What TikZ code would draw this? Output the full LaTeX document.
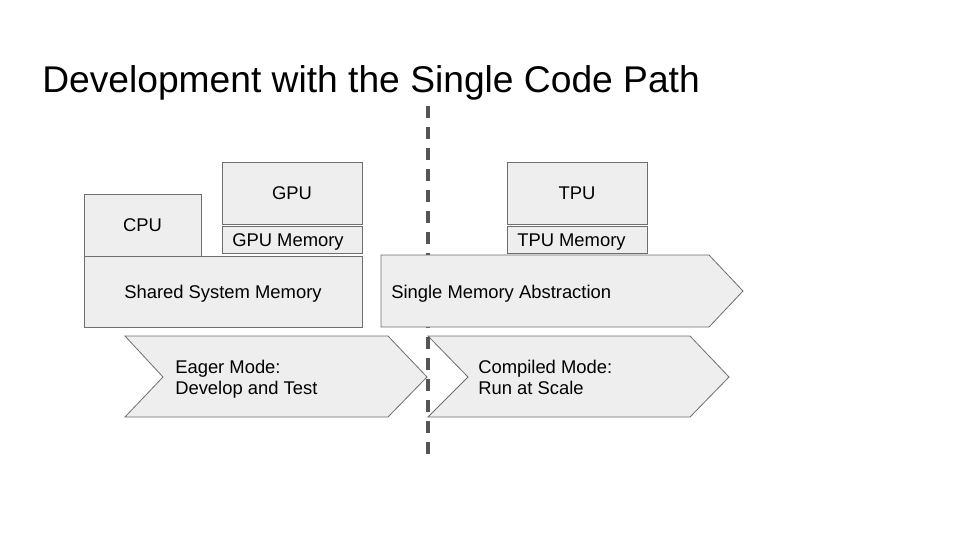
\documentclass[tikz,border=0pt]{standalone}
\usepackage{fontspec}
\setmainfont{Liberation Sans}
\usetikzlibrary{shapes.symbols,positioning}
\definecolor{BoxFill}{HTML}{EEEEEE}
\definecolor{BoxLine}{HTML}{6E6E6E}
\definecolor{DashGray}{HTML}{555555}

\begin{document}
\begin{tikzpicture}[x=0.75pt,y=-0.75pt,
  unit/.style={draw=BoxLine,fill=BoxFill,line width=0.6pt,inner sep=0pt,
               font=\fontsize{13.8}{16}\selectfont},
  memtag/.style={unit,minimum width=105pt,minimum height=20.25pt},
  arrowbox/.style={draw=BoxLine,fill=BoxFill,line width=0.6pt,line join=miter},
  label/.style={font=\fontsize{13.8}{15.75}\selectfont,align=left,anchor=base west,inner sep=0pt},
]
\useasboundingbox (0,0) rectangle (960,540);

% title
\node[anchor=base west,inner sep=0pt,font=\fontsize{27.9}{32}\selectfont] (title) at (42,92)
  {Development with the Single Code Path};

% left side: eager
\node[unit,minimum width=87.75pt,minimum height=46.5pt] (cpu) at (142.5,225) {CPU};
\node[unit,minimum width=105pt,minimum height=46.5pt] (gpu) at (292,193) {GPU};
\node[memtag] (gpumem) at (292,239.5) {};
\node[label] at (232,246.5) {GPU Memory};
\node[unit,minimum width=208.5pt,minimum height=53.25pt] (shared) at (223,291.5) {};
\node[label] at (124,298.5) {Shared System Memory};

% right side: compiled
\node[unit,minimum width=105pt,minimum height=46.5pt] (tpu) at (577,193) {TPU};
\node[memtag] (tpumem) at (577,239.5) {};
\node[label] at (517,246.5) {TPU Memory};

% mode chevrons (label anchor = baseline of last line)
\draw[arrowbox] (125,336) -- (388,336) -- (427,377) -- (388,417) -- (125,417) -- (163,377) -- cycle;
\node[label] (eager) at (175,394.5) {Eager Mode:\\Develop and Test};
\draw[arrowbox] (428,336) -- (690,336) -- (729,377) -- (690,417) -- (428,417) -- (468,377) -- cycle;
\node[label] (compiled) at (478,394.5) {Compiled Mode:\\Run at Scale};

% divider between the two modes
\coordinate (divtop) at (428,106);
\coordinate (divbot) at (428,455);
\draw[DashGray,line width=2.4pt,dash pattern=on 9pt off 6.75pt] (divtop) -- (divbot);

\draw[arrowbox] (381,255) -- (709,255) -- (743,291) -- (709,327) -- (381,327) -- cycle;
\node[label] (single) at (391,298.5) {Single Memory Abstraction};
\end{tikzpicture}
\end{document}
